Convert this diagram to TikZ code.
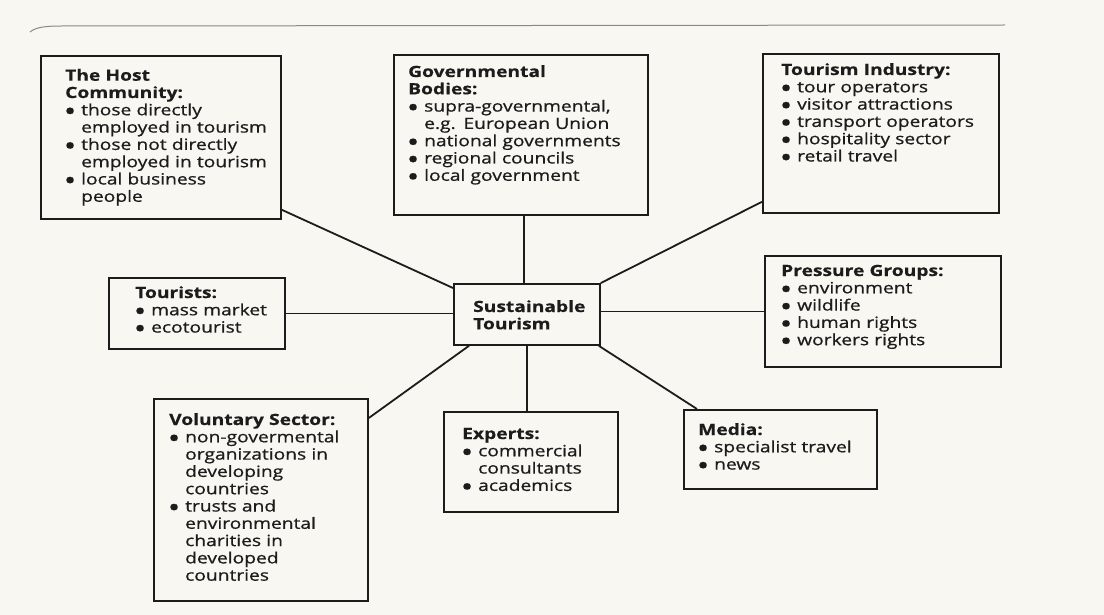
\documentclass[tikz,border=0pt]{standalone}
\usepackage{fontspec}
\setmainfont{Open Sans}[FakeStretch=1.24, FakeBold=0.8,
  BoldFeatures={FakeBold=0.4}]
\usetikzlibrary{calc}
\definecolor{ink}{HTML}{1C1C1C}
\definecolor{paper}{HTML}{F8F7F2}
\definecolor{rulegray}{HTML}{8A8A86}
\newcommand{\bul}{\makebox[16pt][l]{\raisebox{-3.2pt}{\scalebox{1.35}{\textbf{\textbullet}}}}}
\newcommand{\ind}{\hspace*{16pt}}
\begin{document}
\begin{tikzpicture}[x=1pt,y=-1pt,
  box/.style={draw=ink, line width=1.8pt, rectangle, inner sep=0pt, anchor=north west},
  txt/.style={anchor=base west, inner sep=0pt, text width=240pt, align=left, text=ink,
              font=\fontsize{15.5}{17.3}\selectfont},
  link/.style={draw=ink, line width=1.8pt}]
% page
\fill[paper] (0,0) rectangle (1104,615);
\useasboundingbox (0,0) rectangle (1104,615);
\draw[rulegray, line width=1pt] (30,32) .. controls (36,27) and (46,26) .. (62,26) -- (1005,25);

% boxes
\node[box, minimum width=240pt, minimum height=163pt] (host) at (40,55) {};
\node[box, minimum width=254pt, minimum height=160pt] (gov) at (393,54) {};
\node[box, minimum width=236pt, minimum height=159pt] (ind) at (762,53) {};
\node[box, minimum width=176pt, minimum height=71pt] (tour) at (108,277) {};
\node[box, minimum width=146pt, minimum height=61pt] (ctr) at (453,283) {};
\node[box, minimum width=236pt, minimum height=111pt] (press) at (764,255) {};
\node[box, minimum width=214pt, minimum height=202pt] (vol) at (153,398) {};
\node[box, minimum width=174pt, minimum height=100pt] (exp) at (443,411) {};
\node[box, minimum width=193pt, minimum height=79pt] (media) at (683,409) {};

% texts
\node[txt] (hostT) at (65,80.7) {\textbf{The Host}\\
\textbf{Community:}\\
\bul those directly\\
\ind employed in tourism\\
\bul those not directly\\
\ind employed in tourism\\
\bul local business\\
\ind people};
\node[txt] (govT) at (408,77) {\textbf{Governmental}\\
\textbf{Bodies:}\\
\bul supra-governmental,\\
\ind e.g. European Union\\
\bul national governments\\
\bul regional councils\\
\bul local government};
\node[txt] (indT) at (781,75) {\textbf{Tourism Industry:}\\
\bul tour operators\\
\bul visitor attractions\\
\bul transport operators\\
\bul hospitality sector\\
\bul retail travel};
\node[txt] (tourT) at (135,298) {\textbf{Tourists:}\\
\bul mass market\\
\bul ecotourist};
\node[txt] (ctrT) at (473,312) {\textbf{Sustainable}\\
\textbf{Tourism}};
\node[txt] (pressT) at (781,276) {\textbf{Pressure Groups:}\\
\bul environment\\
\bul wildlife\\
\bul human rights\\
\bul workers rights};
\node[txt] (volT) at (169,425) {\textbf{Voluntary Sector:}\\
\bul non-govermental\\
\ind organizations in\\
\ind developing\\
\ind countries\\
\bul trusts and\\
\ind environmental\\
\ind charities in\\
\ind developed\\
\ind countries};
\node[txt] (expT) at (462,439) {\textbf{Experts:}\\
\bul commercial\\
\ind consultants\\
\bul academics};
\node[txt] (mediaT) at (698,435) {\textbf{Media:}\\
\bul specialist travel\\
\bul news};

% connectors
\draw[link] ($(host.south east)+(0,-10)$) -- ($(ctr.north west)+(0,5)$);
\draw[link] ($(gov.south)+(3,0)$) -- ($(ctr.north)+(-3,0)$);
\draw[link] ($(ind.south west)+(0,-12)$) -- (ctr.north east);
\draw[link] (tour.east) -- (ctr.west |- tour.east);
\draw[link] (ctr.east |- press.west) -- (press.west);
\draw[link] ($(vol.north east)+(0,20)$) -- ($(ctr.south west)+(16,0)$);
\draw[link] (ctr.south) -- (ctr.south |- exp.north);
\draw[link] ($(ctr.south east)+(-2,0)$) -- ($(media.north west)+(14,0)$);
\end{tikzpicture}
\end{document}
